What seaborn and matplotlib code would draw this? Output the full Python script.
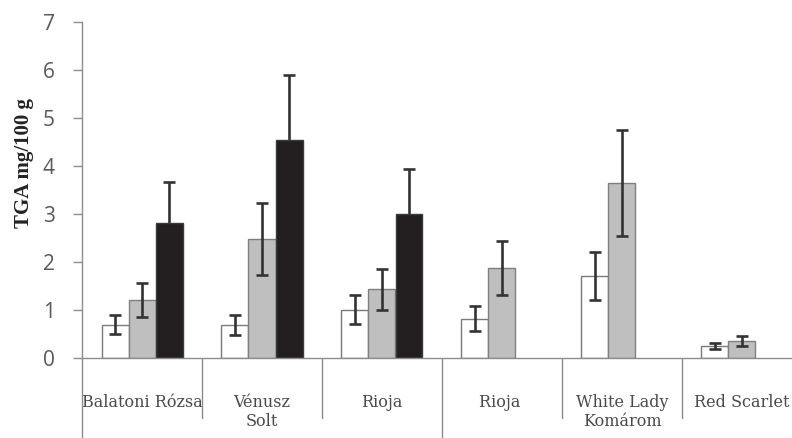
import numpy as np
import pandas as pd
import matplotlib
matplotlib.use("Agg")
import matplotlib.pyplot as plt
import seaborn as sns

# ── Data ─────────────────────────────────────────────────────────────────────
categories = ["Balatoni Rózsa", "Vénusz\nSolt", "Rioja", "Rioja ", "White Lady\nKomárom", "Red Scarlet"]
series     = ["s1", "s2", "s3"]
s1_mean    = [0.69, 0.69, 1.01, 0.82, 1.70, 0.25]
s1_sd      = [0.20, 0.21, 0.31, 0.26, 0.50, 0.07]
s2_mean    = [1.21, 2.48, 1.43, 1.88, 3.65, 0.35]
s2_sd      = [0.36, 0.75, 0.42, 0.56, 1.10, 0.10]
s3_mean    = [2.82, 4.54, 3.01, np.nan, np.nan, np.nan]
s3_sd      = [0.84, 1.35, 0.93, np.nan, np.nan, np.nan]
y_ticks    = [0, 1, 2, 3, 4, 5, 6, 7]

fills  = ["#ffffff", "#bfbfbf", "#231f20"]
edges  = ["#7a7a7a", "#7f7f7f", "#3a3a3a"]
AXIS   = "#8c8c8c"

means = [s1_mean, s2_mean, s3_mean]
sds   = [s1_sd, s2_sd, s3_sd]

rows = []
for s, m in zip(series, means):
    for c, v in zip(categories, m):
        if not np.isnan(v):
            rows.append({"cat": c, "series": s, "val": v})
df = pd.DataFrame(rows)

# ── Plot ─────────────────────────────────────────────────────────────────────
sns.set_style("white")
fig = plt.figure(figsize=(7.92, 4.38), dpi=100)
ax = fig.add_axes([82 / 792, 80 / 438, 720 / 792, 336 / 438])

BAR_W = 0.675
sns.barplot(data=df, x="cat", y="val", hue="series", order=categories,
            hue_order=series, palette=fills, width=BAR_W, errorbar=None,
            legend=False, ax=ax, saturation=1)

for h, cont in enumerate(ax.containers):
    for bar in cont:
        bar.set_edgecolor(edges[h])
        bar.set_linewidth(1.0)
        bar.set_zorder(2)

# error bars; the black bars hide the lower half as in the original
step = BAR_W / len(series)
for h in range(len(series)):
    for i in range(len(categories)):
        if np.isnan(means[h][i]):
            continue
        x = i + (h - 1) * step
        ax.errorbar(x, means[h][i], yerr=sds[h][i], fmt="none",
                    ecolor="#333333", elinewidth=1.9, capsize=4.5, capthick=1.9,
                    zorder=1 if h == 2 else 5)

ax.set_xlim(-0.5, len(categories) - 0.5)
ax.set_ylim(0, 7)
ax.set_yticks(y_ticks)
ax.set_yticklabels([str(t) for t in y_ticks])

for s in ["top", "right"]:
    ax.spines[s].set_visible(False)
ax.spines["left"].set_color(AXIS)
ax.spines["bottom"].set_color(AXIS)
ax.spines["left"].set_linewidth(1.0)
ax.spines["bottom"].set_linewidth(1.0)

ax.tick_params(axis="y", direction="out", length=6.5, width=1.0, color=AXIS,
               pad=13, labelsize=15, labelcolor="#595959", left=True)
for lab in ax.get_yticklabels():
    lab.set_family(["Open Sans", "DejaVu Sans"])

ax.tick_params(axis="x", length=0, pad=26)
ax.set_xticks(range(len(categories)))
ax.set_xticklabels(categories, family="DejaVu Serif", fontsize=11.5,
                   color="#4a4a4a", linespacing=1.15)
ax.set_xlabel("")

# category separators (two levels)
for b in np.arange(-0.5, len(categories), 1.0):
    long_sep = b in (-0.5, 2.5, 5.5)
    ax.axvline(b, ymin=-0.26 if long_sep else -0.18, ymax=0, color=AXIS,
               linewidth=1.0, clip_on=False)

ax.set_ylabel("TGA mg/100 g", family="Liberation Serif", fontweight="bold",
              fontsize=15, color="#222222")
ax.yaxis.set_label_coords(-0.066, 0.58)

fig.savefig("out.png", dpi=100)
